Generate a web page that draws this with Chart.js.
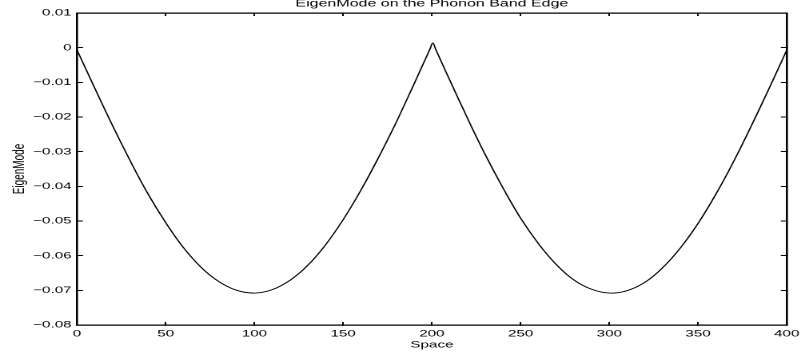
<!DOCTYPE html>
<html>
<head>
<meta charset="utf-8">
<script src="https://cdn.jsdelivr.net/npm/chart.js@4.4.0/dist/chart.umd.min.js"></script>
<style>
  html, body { margin: 0; padding: 0; background: #fff; overflow: hidden; }
  /* the reference figure is stretched sideways, so the chart is drawn narrow and widened */
  #wrap { width: 506px; height: 358px; transform: scaleX(1.5988); transform-origin: 0 0; }
</style>
</head>
<body>
<div id="wrap"><canvas id="chart" width="506" height="358"></canvas></div>
<script>
const titulo = 'EigenMode on the Phonon Band Edge';
const rotuloX = 'Space';
const rotuloY = 'EigenMode';

const espaco = [0, 10, 20, 30, 40, 50, 60, 70, 80, 90, 100, 110, 120, 130, 140, 150, 160, 170, 180, 190,
  195, 199, 200.5, 202, 205,
  210, 220, 230, 240, 250, 260, 270, 280, 290, 300, 310, 320, 330, 340, 350, 360, 370, 380, 390, 400];
const modo = [-0.0007, -0.0117, -0.0225, -0.0327, -0.0422, -0.0505, -0.0577, -0.0634, -0.0675, -0.0700,
  -0.0708, -0.0698, -0.0671, -0.0628, -0.0569, -0.0496, -0.0411, -0.0316, -0.0214, -0.0104,
  -0.0048, -0.0003, 0.0014, -0.0003, -0.0037,
  -0.0093, -0.0203, -0.0308, -0.0404, -0.0492, -0.0565, -0.0625, -0.0670, -0.0697,
  -0.0708, -0.0701, -0.0677, -0.0635, -0.0578, -0.0507, -0.0423, -0.0329, -0.0226, -0.0118, -0.0007];

const ticksX = [0, 50, 100, 150, 200, 250, 300, 350, 400];
const rotulosTicksX = ['0', '50', '100', '150', '200', '250', '300', '350', '400'];
const ticksY = [-0.08, -0.07, -0.06, -0.05, -0.04, -0.03, -0.02, -0.01, 0, 0.01];
const rotulosTicksY = ['\u22120.08', '\u22120.07', '\u22120.06', '\u22120.05', '\u22120.04',
  '\u22120.03', '\u22120.02', '\u22120.01', '0', '0.01'];

const fonte = 'Liberation Sans, Arial, Helvetica, sans-serif';
const pontos = espaco.map((x, i) => ({ x: x, y: modo[i] }));

function fixarTicks(lista) {
  return scale => { scale.ticks = lista.map(v => ({ value: v })); };
}

const eixoComum = {
  type: 'linear',
  border: { display: true, color: '#000', width: 1.3 },
  grid: { drawOnChartArea: false, color: '#000', lineWidth: 1 }
};

new Chart(document.getElementById('chart'), {
  type: 'line',
  data: {
    datasets: [{
      data: pontos,
      borderColor: '#000',
      borderWidth: 0.9,
      pointRadius: 0,
      tension: 0.4,
      fill: false
    }]
  },
  options: {
    responsive: false,
    devicePixelRatio: 2,
    animation: false,
    layout: { padding: { left: 0, right: 9.4, top: 0, bottom: 0 } },
    plugins: {
      legend: { display: false },
      tooltip: { enabled: false },
      title: {
        display: true,
        text: titulo,
        fullSize: false,
        color: '#000',
        font: { family: fonte, size: 10, weight: 'normal', lineHeight: 0.7 },
        padding: { top: 0, bottom: 6 }
      }
    },
    scales: {
      x: {
        ...eixoComum,
        position: 'bottom',
        min: 0, max: 400,
        grid: { ...eixoComum.grid, tickLength: -3 },
        afterBuildTicks: fixarTicks(ticksX),
        afterFit: s => { s.height = 33; },
        ticks: {
          color: '#000', padding: 6, maxRotation: 0,
          font: { family: fonte, size: 9.5 },
          callback: (v, i) => rotulosTicksX[i]
        },
        title: {
          display: true, text: rotuloX, color: '#000',
          font: { family: fonte, size: 9.5 },
          padding: { top: 0, bottom: 7.5 }
        }
      },
      y: {
        ...eixoComum,
        position: 'left',
        min: -0.08, max: 0.01,
        grid: { ...eixoComum.grid, tickLength: -3.7 },
        afterBuildTicks: fixarTicks(ticksY),
        afterFit: s => { s.width = 48.2; },
        ticks: {
          color: '#000', padding: 7.1,
          font: { family: fonte, size: 9.5 },
          callback: (v, i) => rotulosTicksY[i]
        },
        title: {
          display: true, text: rotuloY, color: '#000',
          font: { family: fonte, size: 10 },
          padding: { top: 6.3, bottom: 0 }
        }
      },
      x2: {
        ...eixoComum,
        position: 'top',
        min: 0, max: 400,
        grid: { ...eixoComum.grid, tickLength: -3 },
        afterBuildTicks: fixarTicks(ticksX),
        afterFit: s => { s.height = 0; },
        ticks: { display: false }
      },
      y2: {
        ...eixoComum,
        position: 'right',
        min: -0.08, max: 0.01,
        grid: { ...eixoComum.grid, tickLength: -3.7 },
        afterBuildTicks: fixarTicks(ticksY),
        afterFit: s => { s.width = 0; },
        ticks: { display: false }
      }
    }
  }
});
</script>
</body>
</html>
